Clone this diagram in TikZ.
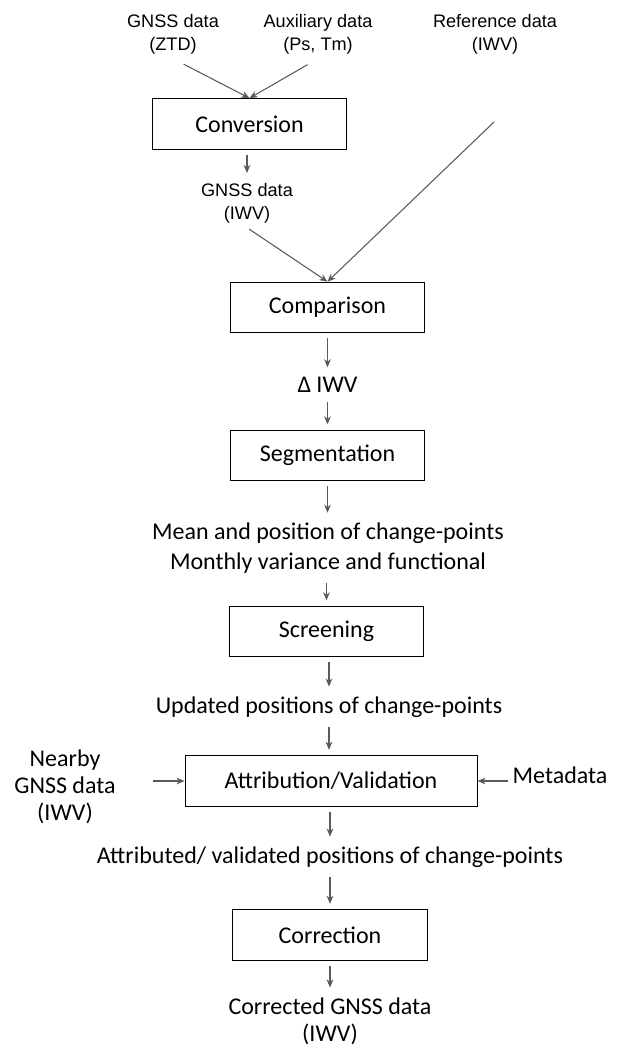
\documentclass[tikz,border=0pt]{standalone}
\usepackage{fontspec}
\setmainfont{Carlito}
\newfontfamily\arialfont{Liberation Sans}
\usepackage{tikz}
\usetikzlibrary{arrows.meta}
\definecolor{arrowgray}{RGB}{90,90,90}
\tikzstyle{box}=[draw=black,line width=0.75pt,fill=white,minimum width=146pt,minimum height=38pt,font=\fontsize{18}{22.5}\selectfont]
\tikzstyle{to}=[-{Stealth[length=6pt,width=5pt,inset=1.8pt]},draw=arrowgray,line width=0.8pt]

\begin{document}
\begin{tikzpicture}[x=0.75pt,y=-0.75pt]
\tikzstyle{lbl}=[align=center,font=\fontsize{18}{20.25}\selectfont]
\tikzstyle{top}=[align=center,font=\arialfont\fontsize{13.6}{17.25}\selectfont]
\tikzstyle{arrow}=[to,shorten <=3.5pt,shorten >=4pt]
\useasboundingbox (0,0) rectangle (622,1058);
\node (T1) [top] at (173,34) {GNSS data\\(ZTD)};
\node (T2) [top] at (318,34) {Auxiliary data\\(Ps, Tm)};
\node (T3) [top] at (495,34) {Reference data\\(IWV)};
\node (A) [box] at (249.5,124) {Conversion};
\node (G) [top] at (247,203) {GNSS data\\(IWV)};
\node (B) [box] at (327.5,307.5) {Comparison};
\node (D) [lbl] at (327.5,385) {Δ IWV};
\node (C) [box] at (327.5,455.5) {Segmentation};
\node (M) [lbl,font=\fontsize{18}{22.5}\selectfont] at (328,548) {Mean and position of change-points\\Monthly variance and functional};
\node (S) [box] at (326.5,631.5) {Screening};
\node (U) [lbl] at (329,707) {Updated positions of change-points};
\node (E) [box,minimum width=219pt] at (331,781) {Attribution/Validation};
\node (N) [lbl] at (65,787) {Nearby\\GNSS data\\(IWV)};
\node (K) [lbl] at (560,775) {Metadata};
\node (V) [lbl] at (330,857) {Attributed/ validated positions of change-points};
\node (F) [box] at (330,935) {Correction};
\node (R) [lbl] at (330,1021) {Corrected GNSS data\\(IWV)};
\coordinate (r) at (494,122);
\coordinate (n) at (153,781);
\draw [to,shorten <=9pt] (T1.south) -- (A.north);
\draw [to,shorten <=9pt] (T2.south) -- (A.north);
\draw [arrow] (A.south -| G.north) -- (G.north);
\draw [to,shorten <=2pt] (G.south) -- (B.north);
\draw [to] (r) -- (B.north);
\draw [arrow] (B.south) -- (B.south |- D.north);
\draw [arrow] (D.south -| C.north) -- (C.north);
\draw [arrow] (C.south) -- (C.south |- M.north);
\draw [arrow] (M.south -| S.north) -- (S.north);
\draw [arrow] (S.south -| U.north) -- (U.north);
\draw [arrow] (U.south) -- (U.south |- E.north);
\draw [to] (n) -- (E.west);
\draw [to] (K.west |- E.east) -- (E.east);
\draw [arrow] (E.south -| V.north) -- (V.north);
\draw [arrow] (V.south) -- (F.north);
\draw [arrow] (F.south) -- (R.north);
\end{tikzpicture}
\end{document}
